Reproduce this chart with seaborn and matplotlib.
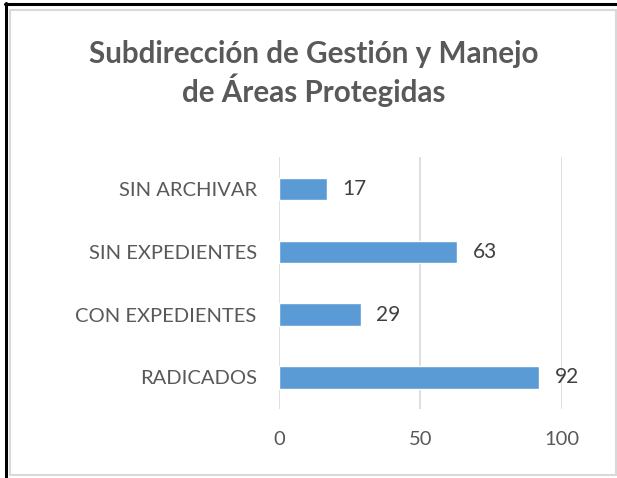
import pandas as pd
import seaborn as sns
import matplotlib.pyplot as plt
from matplotlib.lines import Line2D
from matplotlib.patches import Rectangle

#%% data
categories = ["SIN ARCHIVAR", "SIN EXPEDIENTES", "CON EXPEDIENTES", "RADICADOS"]
values = [17, 63, 29, 92]
x_ticks = [0, 50, 100]

df = pd.DataFrame({"Estado": categories, "Cantidad": values})

#%% style
sns.set_style("white")
plt.rcParams['font.family'] = ['Lato', 'DejaVu Sans']

fig = plt.figure(figsize=(6.17, 4.78), dpi=100)
ax = fig.add_axes([0.452, 0.1444, 0.459, 0.527])

sns.barplot(data=df, x="Cantidad", y="Estado", color="#5B9BD5",
            width=0.35, saturation=1, ax=ax, zorder=3)

ax.set_xlim(0, 100)
ax.set_xticks(x_ticks)
ax.grid(axis="x", color="#D9D9D9", linewidth=1.2, zorder=0)
ax.set_xlabel("")
ax.set_ylabel("")
for s in ax.spines.values():
    s.set_visible(False)
ax.tick_params(axis="x", length=0, pad=16, labelsize=14.5, labelcolor="#595959")
ax.tick_params(axis="y", length=0, pad=16, labelsize=14.5, labelcolor="#595959")

# value labels
ax.bar_label(ax.containers[0], padding=11, fontsize=15, color="#404040")

# title
fig.text(0.508, 0.847, "Subdirección de Gestión y Manejo\nde Áreas Protegidas",
         ha="center", va="center", fontsize=21.3, fontweight="bold",
         color="#595959", linespacing=1.2)

# frame: gray chart border + black page lines
fig.patches.append(Rectangle((10 / 617, 1 - 475 / 478), 606 / 617, 465 / 478,
                             transform=fig.transFigure, fill=False,
                             edgecolor="#D9D9D9", linewidth=1.5))
fig.lines.append(Line2D([5 / 617, 1], [1 - 4 / 478, 1 - 4 / 478],
                        transform=fig.transFigure, color="black", linewidth=2.2))
fig.lines.append(Line2D([6 / 617, 6 / 617], [0, 1 - 3 / 478],
                        transform=fig.transFigure, color="black", linewidth=2.2))

fig.savefig("out.png", dpi=100)
